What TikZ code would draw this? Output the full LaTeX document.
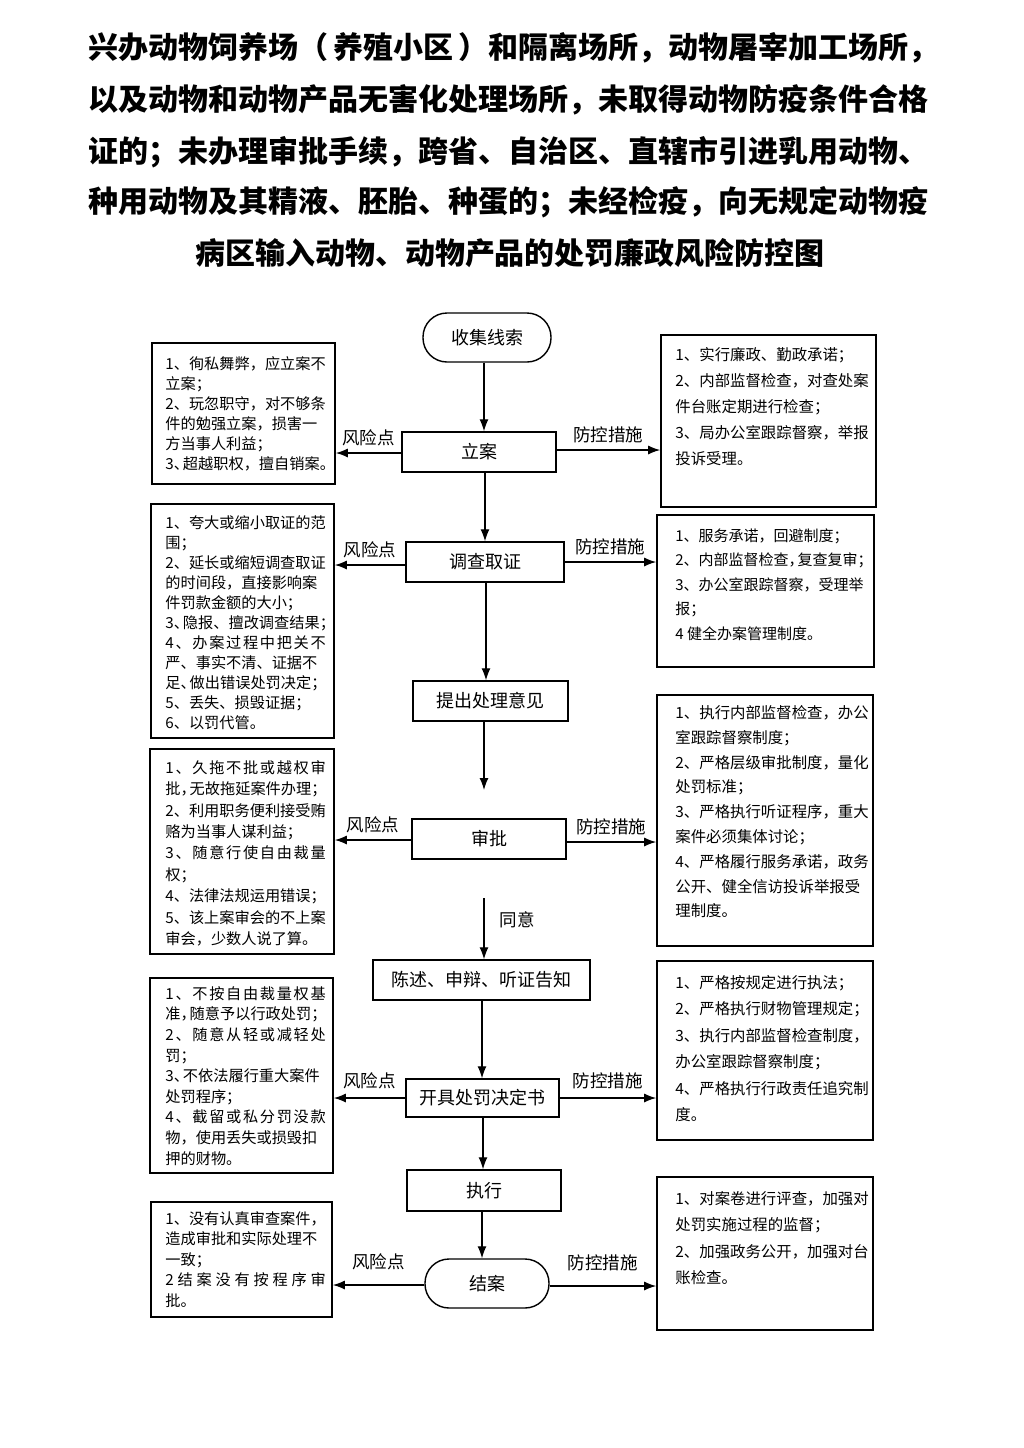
\documentclass[tikz,border=0pt]{standalone}
\usepackage{fontspec}
\setmainfont{Noto Sans CJK SC}
\usetikzlibrary{arrows.meta,fit}
\newcommand{\jline}[2]{\makebox[#1][s]{\jspread#2\jend}}
\def\jend{\jend}
\def\jspread#1#2{#1\ifx#2\jend\else\hfil\expandafter\jspread\expandafter#2\fi}
\newcommand{\cdun}{、\kern-0.4em}
\newcommand{\cdou}{，\kern-0.4em}
\begin{document}
\begin{tikzpicture}[x=0.5pt,y=-0.5pt,
  ttl/.style={font=\fontsize{15}{18}\selectfont\bfseries, inner sep=0pt},
  proc/.style={draw, line width=0.7pt, minimum height=20pt, inner sep=0pt, font=\fontsize{9}{10}\selectfont},
  term/.style={proc, rounded corners=12pt},
  side/.style={draw, line width=0.8pt, inner sep=0pt},
  ltxt/.style={anchor=north west, inner sep=0pt, align=left},
  arr/.style={-{Latex[length=6pt,width=4.5pt]}, line width=0.65pt},
  lab/.style={font=\fontsize{8.75}{10}\selectfont, inner sep=1pt}]
\useasboundingbox (0,0) rectangle (1024,1448);
\fill[white] (0,0) rectangle (1024,1448);

% title
\node[ttl, anchor=west] (t1) at (88,48) {兴办动物饲养场（\,养殖小区\,）和隔离场所，动物屠宰加工场所，};
\node[ttl, anchor=west] (t2) at (88,100) {以及动物和动物产品无害化处理场所，未取得动物防疫条件合格};
\node[ttl, anchor=west] (t3) at (88,152) {证的；未办理审批手续，跨省、自治区、直辖市引进乳用动物、};
\node[ttl, anchor=west] (t4) at (88,202) {种用动物及其精液、胚胎、种蛋的；未经检疫，向无规定动物疫};
\node[ttl] (t5) at (510,253) {病区输入动物、动物产品的处罚廉政风险防控图};

% central flow
\node[term, minimum width=64pt, minimum height=24.5pt] (sj) at (487,337.5) {收集线索};
\node[proc, minimum width=77pt] (la) at (479,452) {立案};
\node[proc, minimum width=79pt] (dc) at (485,562) {调查取证};
\node[proc, minimum width=77.5pt] (tc) at (490.5,701) {提出处理意见};
\node[proc, minimum width=77pt] (sp) at (489,839) {审批};
\node[proc, minimum width=108.5pt] (cs) at (481.5,980) {陈述、申辩、听证告知};
\node[proc, minimum width=76.5pt, minimum height=19pt] (kj) at (482.5,1098) {开具处罚决定书};
\node[proc, minimum width=77pt, minimum height=20.5pt] (zx) at (484,1190.5) {执行};
\node[term, minimum width=62pt, minimum height=24.5pt] (ja) at (487,1283.5) {结案};

% side boxes
\node[side, fit={(152,343) (335,484)}] (L1) {};
\node[side, fit={(661,335) (876,507)}] (R1) {};
\node[side, fit={(151,504) (334,738)}] (L2) {};
\node[side, fit={(657,515) (874,667)}] (R2) {};
\node[side, fit={(150,749) (334,954)}] (L3) {};
\node[side, fit={(657,695) (873,946)}] (R3) {};
\node[side, fit={(150,978) (333,1173)}] (L4) {};
\node[side, fit={(657,961) (873,1140)}] (R4) {};
\node[side, fit={(151,1202) (332,1317)}] (L5) {};
\node[side, fit={(657,1177) (873,1330)}] (R5) {};

% side texts
\node[ltxt, font=\fontsize{7.6}{10}\selectfont] (L1t) at (165,356) {1、徇私舞弊，应立案不\\立案；\\2、玩忽职守，对不够条\\件的勉强立案，损害一\\方当事人利益；\\3\cdun 超越职权，擅自销案。};
\node[ltxt, font=\fontsize{7.7}{13}\selectfont] (R1t) at (675,347) {1、实行廉政、勤政承诺；\\2、内部监督检查，对查处案\\件台账定期进行检查；\\3、局办公室跟踪督察，举报\\投诉受理。};
\node[ltxt, font=\fontsize{7.6}{10}\selectfont] (L2t) at (165,515) {1、夸大或缩小取证的范\\围；\\2、延长或缩短调查取证\\的时间段，直接影响案\\件罚款金额的大小；\\3\cdun 隐报、擅改调查结果；\\\jline{10.55em}{4、办案过程中把关不}\\严、事实不清、证据不\\足\cdun 做出错误处罚决定；\\5、丢失、损毁证据；\\6、以罚代管。};
\node[ltxt, font=\fontsize{7.5}{12.25}\selectfont] (R2t) at (675,528) {1、服务承诺，回避制度；\\2、内部监督检查\cdou 复查复审；\\3、办公室跟踪督察，受理举\\报；\\4 健全办案管理制度。};
\node[ltxt, font=\fontsize{7.6}{10.7}\selectfont] (L3t) at (165,760) {\jline{10.55em}{1、久拖不批或越权审}\\批\cdou 无故拖延案件办理；\\2、利用职务便利接受贿\\赂为当事人谋利益；\\\jline{10.55em}{3、随意行使自由裁量}\\权；\\4、法律法规运用错误；\\5、该上案审会的不上案\\审会，少数人说了算。};
\node[ltxt, font=\fontsize{7.7}{12.4}\selectfont] (R3t) at (675,705) {1、执行内部监督检查，办公\\室跟踪督察制度；\\2、严格层级审批制度，量化\\处罚标准；\\3、严格执行听证程序，重大\\案件必须集体讨论；\\4、严格履行服务承诺，政务\\公开、健全信访投诉举报受\\理制度。};
\node[ltxt, font=\fontsize{7.6}{10.3}\selectfont] (L4t) at (165,986) {\jline{10.55em}{1、不按自由裁量权基}\\准\cdou 随意予以行政处罚；\\\jline{10.55em}{2、随意从轻或减轻处}\\罚；\\3\cdun 不依法履行重大案件\\处罚程序；\\\jline{10.55em}{4、截留或私分罚没款}\\物，使用丢失或损毁扣\\押的财物。};
\node[ltxt, font=\fontsize{7.7}{13.25}\selectfont] (R4t) at (675,975) {1、严格按规定进行执法；\\2、严格执行财物管理规定；\\3、执行内部监督检查制度，\\办公室跟踪督察制度；\\4、严格执行行政责任追究制\\度。};
\node[ltxt, font=\fontsize{7.6}{10.25}\selectfont] (L5t) at (165,1211) {1、没有认真审查案件，\\造成审批和实际处理不\\一致；\\\jline{10.55em}{2结案没有按程序审}\\批。};
\node[ltxt, font=\fontsize{7.7}{13.25}\selectfont] (R5t) at (675,1191) {1、对案卷进行评查，加强对\\处罚实施过程的监督；\\2、加强政务公开，加强对台\\账检查。};

% vertical connectors
\draw[arr] (sj.south -| 484,0) -- (la.north -| 484,0);
\draw[arr] (la.south -| 485,0) -- (dc.north -| 485,0);
\draw[arr] (dc.south -| 486,0) -- (tc.north -| 486,0);
\coordinate (tcEnd) at (484,790);
\draw[arr] (tc.south -| 484,0) -- (tcEnd);
\coordinate (tyStart) at (484,898);
\draw[arr] (tyStart) -- (cs.north -| 484,0);
\node[lab] (ty) at (517,920) {同意};
\draw[arr] (cs.south -| 482,0) -- (kj.north -| 482,0);
\draw[arr] (kj.south -| 483,0) -- (zx.north -| 483,0);
\draw[arr] (zx.south -| 482,0) -- (ja.north -| 482,0);

% horizontal connectors
\draw[arr] (la.west |- 0,453) -- (L1.east |- 0,453) node[lab, midway, above=2pt] {风险点};
\draw[arr] (la.east |- 0,450) -- (R1.west |- 0,450) node[lab, midway, above=2pt] {防控措施};
\draw[arr] (dc.west |- 0,565) -- (L2.east |- 0,565) node[lab, midway, above=2pt] {风险点};
\draw[arr] (dc.east |- 0,562) -- (R2.west |- 0,562) node[lab, midway, above=2pt] {防控措施};
\draw[arr] (sp.west |- 0,840) -- (L3.east |- 0,840) node[lab, midway, above=2pt] {风险点};
\draw[arr] (sp.east |- 0,842) -- (R3.west |- 0,842) node[lab, midway, above=2pt] {防控措施};
\draw[arr] (kj.west |- 0,1098) -- (L4.east |- 0,1098) node[lab, midway, above=3pt] {风险点};
\draw[arr] (kj.east |- 0,1098) -- (R4.west |- 0,1098) node[lab, midway, above=3pt] {防控措施};
\draw[arr] (ja.west |- 0,1285) -- (L5.east |- 0,1285) node[lab, midway, above=6pt] {风险点};
\draw[arr] (ja.east |- 0,1286) -- (R5.west |- 0,1286) node[lab, midway, above=6pt] {防控措施};
\end{tikzpicture}
\end{document}
